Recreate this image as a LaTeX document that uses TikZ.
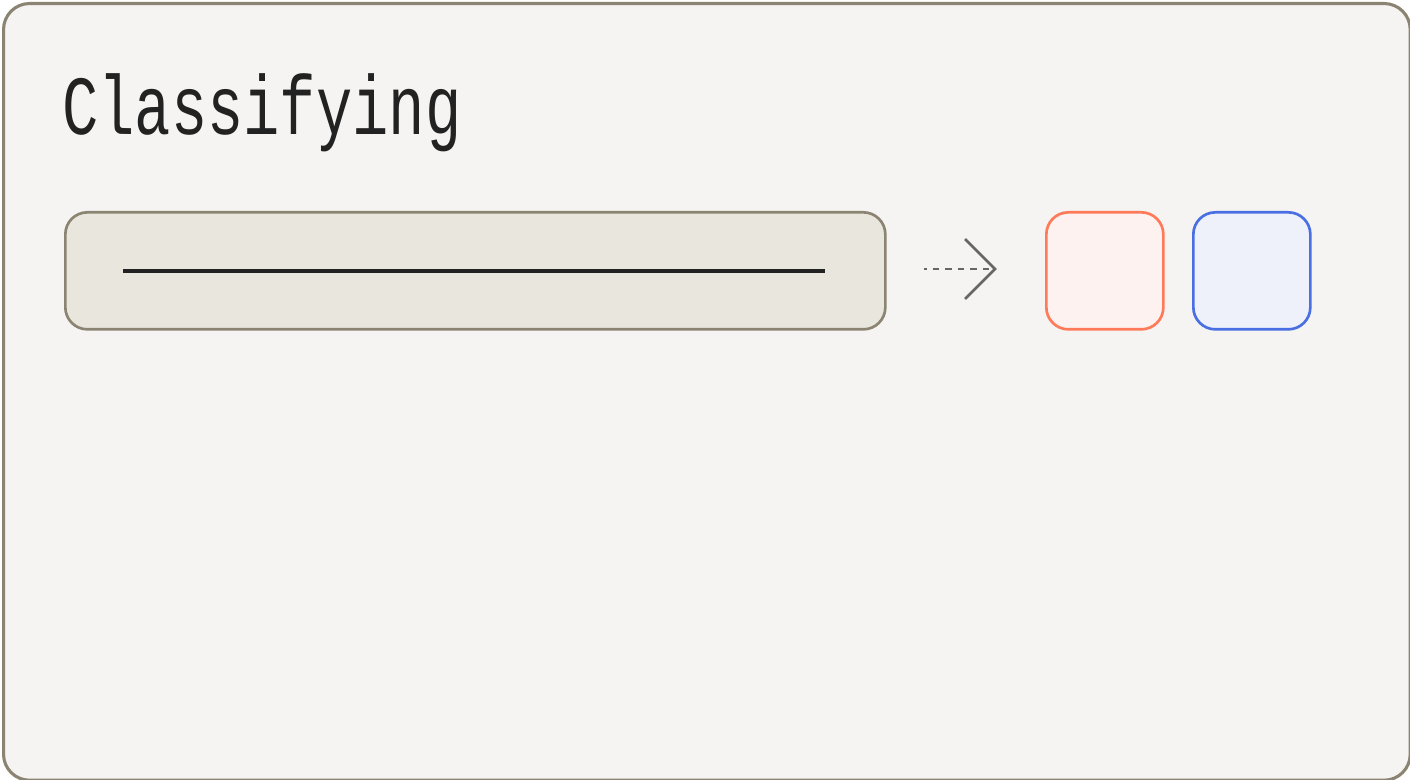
\documentclass[tikz,border=0pt]{standalone}
\usepackage{fontspec}
\newfontfamily\titlefont[FakeStretch=0.72]{Liberation Mono}
\definecolor{pagebg}{HTML}{F5F4F2}
\definecolor{frameline}{HTML}{8C8472}
\definecolor{barfill}{HTML}{E9E6DE}
\definecolor{inkdark}{HTML}{222222}
\definecolor{arrowgray}{HTML}{666666}
\definecolor{redline}{HTML}{FF7A59}
\definecolor{redfill}{HTML}{FDF2EF}
\definecolor{blueline}{HTML}{4A6FE3}
\definecolor{bluefill}{HTML}{EFF1FA}
\tikzset{
  box/.style={draw, line width=2pt, rounded corners=16.5pt, inner sep=0pt},
  classbox/.style={box, minimum width=87.75pt, minimum height=87.75pt},
}
\begin{document}
\begin{tikzpicture}[x=0.75pt,y=-0.75pt]
\useasboundingbox (0,0) rectangle (1410,780);
\node[draw=frameline, fill=pagebg, line width=2.3pt, rounded corners=19.5pt, minimum width=1055pt, minimum height=582.5pt, anchor=north west, inner sep=0pt] (frame) at (2,2) {};
\node[anchor=base west, inner sep=0pt, text=inkdark, font=\titlefont\fontsize{63}{63}\selectfont] (title) at (62,135) {Classifying};
\node[box, draw=frameline, fill=barfill, minimum width=615pt, minimum height=87.75pt, anchor=north west] (bar) at (64,211) {};
\coordinate (lineL) at (123,271);
\coordinate (lineR) at (825,271);
\draw[inkdark, line width=2.4pt] (lineL) -- (lineR);
\coordinate (arrS) at (924,269);
\coordinate (arrE) at (995,269);
\coordinate (chevT) at (965,239);
\coordinate (chevB) at (965,299);
\draw[arrowgray, line width=2pt, dash pattern=on 4.9pt off 4.5pt, dash phase=2.9pt] (arrS) -- (arrE);
\draw[arrowgray, line width=2pt, line join=miter] (chevT) -- (arrE) -- (chevB);
\node[classbox, draw=redline, fill=redfill, anchor=north west] (red) at (1045,211) {};
\node[classbox, draw=blueline, fill=bluefill, anchor=north west] (blue) at (1192,211) {};
\end{tikzpicture}
\end{document}
